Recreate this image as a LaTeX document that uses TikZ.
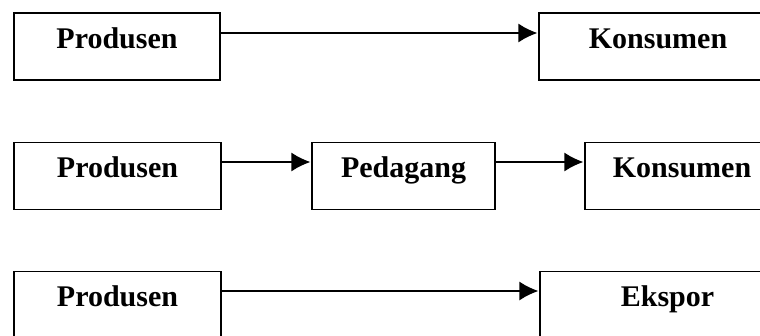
\documentclass[tikz,border=0pt]{standalone}
\usepackage{fontspec}
\setmainfont{Liberation Serif}
\usepackage{tikz}
\usetikzlibrary{arrows.meta}

\tikzset{
  box/.style={draw, line width=1.6pt, inner sep=0pt, text height=35pt, text depth=32pt,
    font=\fontsize{30}{32}\selectfont\bfseries},
  flow/.style={line width=1.6pt, -{Latex[length=19pt,width=19pt]}, shorten >=0.8pt}
}

\begin{document}
\begin{tikzpicture}[x=1pt,y=1pt,yscale=-1,xscale=1]
\useasboundingbox (0,0) rectangle (760,335);

%Row 1: produsen -> konsumen
\node [box, minimum width=206pt] (prod1) at (117,46.5) {Produsen};
\node [box, minimum width=238pt] (kons1) at (658,46.5) {Konsumen};
\draw [flow] ([yshift=-13.5pt]prod1.east) -- ([yshift=-13.5pt]kons1.west);

%Row 2: produsen -> pedagang -> konsumen
\node [box, minimum width=207pt] (prod2) at (117.5,176) {Produsen};
\node [box, minimum width=183pt] (pdg2) at (403.5,176) {Pedagang};
\node [box, minimum width=194pt] (kons2) at (682,176) {Konsumen};
\draw [flow] ([yshift=-14pt]prod2.east) -- ([yshift=-14pt]pdg2.west);
\draw [flow] ([yshift=-14pt]pdg2.east) -- ([yshift=-14pt]kons2.west);

%Row 3: produsen -> ekspor
\node [box, minimum width=207pt] (prod3) at (117.5,305) {Produsen};
\node [box, minimum width=255pt] (eks3) at (667.5,305) {Ekspor};
\draw [flow] ([yshift=-14pt]prod3.east) -- ([yshift=-14pt]eks3.west);

\end{tikzpicture}
\end{document}
